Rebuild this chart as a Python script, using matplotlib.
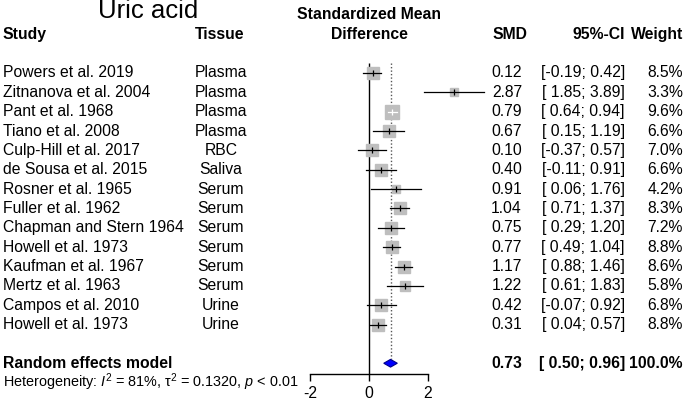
import matplotlib
matplotlib.use("Agg")
import matplotlib.pyplot as plt

plt.rcParams["font.family"] = ["Liberation Sans", "DejaVu Sans"]
plt.rcParams["mathtext.fontset"] = "custom"
plt.rcParams["mathtext.rm"] = "Liberation Sans"
plt.rcParams["mathtext.it"] = "Liberation Sans:italic"
plt.rcParams["mathtext.bf"] = "Liberation Sans:bold"

# data
studies = ["Powers et al. 2019", "Zitnanova et al. 2004", "Pant et al. 1968",
           "Tiano et al. 2008", "Culp-Hill et al. 2017", "de Sousa et al. 2015",
           "Rosner et al. 1965", "Fuller et al. 1962", "Chapman and Stern 1964",
           "Howell et al. 1973", "Kaufman et al. 1967", "Mertz et al. 1963",
           "Campos et al. 2010", "Howell et al. 1973"]
tissue = ["Plasma", "Plasma", "Plasma", "Plasma", "RBC", "Saliva", "Serum",
          "Serum", "Serum", "Serum", "Serum", "Serum", "Urine", "Urine"]
smd = [0.12, 2.87, 0.79, 0.67, 0.10, 0.40, 0.91, 1.04, 0.75, 0.77, 1.17, 1.22, 0.42, 0.31]
ci_lo = [-0.19, 1.85, 0.64, 0.15, -0.37, -0.11, 0.06, 0.71, 0.29, 0.49, 0.88, 0.61, -0.07, 0.04]
ci_hi = [0.42, 3.89, 0.94, 1.19, 0.57, 0.91, 1.76, 1.37, 1.20, 1.04, 1.46, 1.83, 0.92, 0.57]
weight = [8.5, 3.3, 9.6, 6.6, 7.0, 6.6, 4.2, 8.3, 7.2, 8.8, 8.6, 5.8, 6.8, 8.8]
re_smd, re_lo, re_hi = 0.73, 0.50, 0.96
xticks = [-2, 0, 2]

W, H = 685, 409
ROW0, ROWH = 73, 19.35      # pixel y of first row, row height
X0, XU = 369, 29.5          # pixel x of SMD=0, pixels per unit


def row(py):
    return (py - ROW0) / ROWH


fig = plt.figure(figsize=(W / 100, H / 100), dpi=100)

# text layer: x in pixels, y in rows
tax = fig.add_axes([0, 0, 1, 1])
tax.set_xlim(0, W)
tax.set_ylim(row(H), row(0))
tax.axis("off")

fs = 11.3
n = len(studies)
re_row = n + 1
het_row = n + 2

tax.text(148, row(18.5), "Uric acid", fontsize=18.5, ha="center", va="baseline")
tax.text(369, -3, "Standardized Mean", fontsize=fs, fontweight="bold", ha="center", va="center")
tax.text(369, -2, "Difference", fontsize=fs, fontweight="bold", ha="center", va="center")
tax.text(3, -2, "Study", fontsize=fs, fontweight="bold", ha="left", va="center")
tax.text(220, -2, "Tissue", fontsize=fs, fontweight="bold", ha="center", va="center")
tax.text(527, -2, "SMD", fontsize=fs, fontweight="bold", ha="right", va="center")
tax.text(625, -2, "95%-CI", fontsize=fs, fontweight="bold", ha="right", va="center")
tax.text(683, -2, "Weight", fontsize=fs, fontweight="bold", ha="right", va="center")

for i in range(n):
    tax.text(3, i, studies[i], fontsize=fs, ha="left", va="center")
    tax.text(221, i, tissue[i], fontsize=fs, ha="center", va="center")
    tax.text(522, i, f"{smd[i]:.2f}", fontsize=fs, ha="right", va="center")
    tax.text(625, i, f"[{ci_lo[i]:5.2f}; {ci_hi[i]:.2f}]", fontsize=fs, ha="right", va="center")
    tax.text(683, i, f"{weight[i]:.1f}%", fontsize=fs, ha="right", va="center")

tax.text(3, re_row, "Random effects model", fontsize=fs, fontweight="bold", ha="left", va="center")
tax.text(522, re_row, f"{re_smd:.2f}", fontsize=fs, fontweight="bold", ha="right", va="center")
tax.text(625, re_row, f"[{re_lo:5.2f}; {re_hi:.2f}]", fontsize=fs, fontweight="bold", ha="right", va="center")
tax.text(683, re_row, "100.0%", fontsize=fs, fontweight="bold", ha="right", va="center")
tax.text(3, het_row, "Heterogeneity: $I^2$ = 81%, τ$^2$ = 0.1320, $p$ < 0.01",
         fontsize=10.4, ha="left", va="center")

# forest panel
left, right, top, bottom = 300, 500, 55, 374
ax = fig.add_axes([left / W, 1 - bottom / H, (right - left) / W, (bottom - top) / H])
ax.set_xlim((left - X0) / XU, (right - X0) / XU)
ax.set_ylim(row(bottom), row(top))
ax.patch.set_visible(False)
for s in ["top", "right", "left"]:
    ax.spines[s].set_visible(False)
ax.spines["bottom"].set_bounds(xticks[0], xticks[-1])
ax.spines["bottom"].set_linewidth(1)
ax.set_xticks(xticks)
ax.set_xticklabels([str(t) for t in xticks])
ax.tick_params(axis="x", direction="out", length=5, width=1, labelsize=fs, pad=4)
ax.set_yticks([])

ax.vlines(0, -0.5, row(bottom), color="black", lw=1)
ax.vlines(re_smd, -0.5, re_row - 0.2, color="#555555", lw=1, linestyles=(0, (1, 1.5)))

for i in range(n):
    side = 4.3 * weight[i] ** 0.5          # square side in pixels
    ax.plot(smd[i], i, marker="s", ms=side * 0.72, color="#BEBEBE", mec="#BEBEBE", zorder=2)
    inside = (ci_hi[i] - ci_lo[i]) * XU < side
    lc = "white" if inside else "black"
    ax.plot([ci_lo[i], ci_hi[i]], [i, i], color=lc, lw=0.9, zorder=3)
    ax.plot(smd[i], i, marker="|", ms=4, mew=0.9, color=lc, zorder=3)

ax.fill([re_lo, re_smd, re_hi, re_smd], [re_row, re_row - 0.2, re_row, re_row + 0.2],
        facecolor="#0000FF", edgecolor="#00008B", lw=0.8, zorder=3)

fig.savefig("out.png", dpi=100)
